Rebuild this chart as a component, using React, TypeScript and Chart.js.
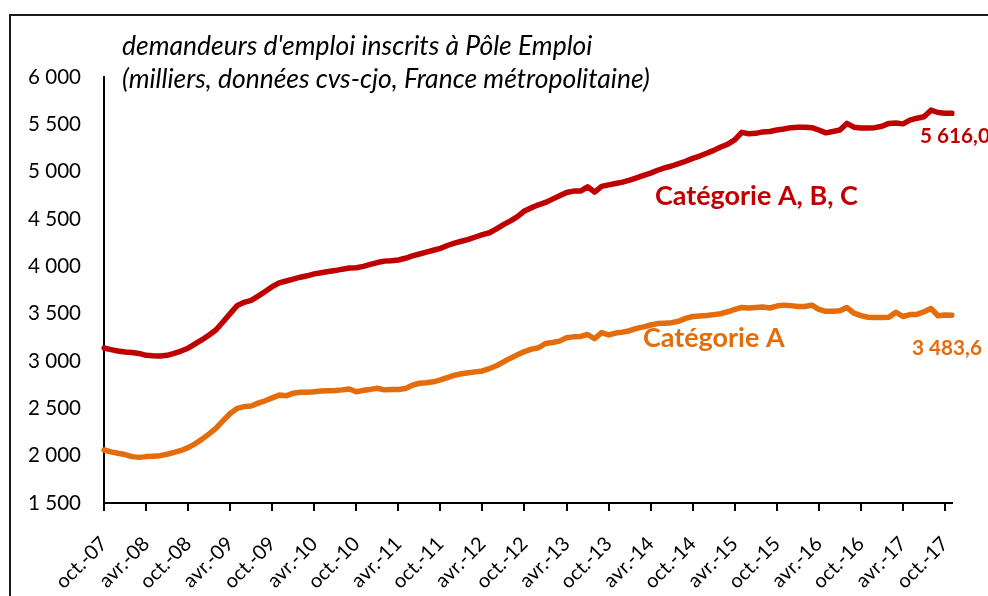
import React, { useEffect, useRef } from 'react';
import { Chart, registerables } from 'chart.js';

Chart.register(...registerables);

// ---------- data ----------
const MONTH_ABBR = ['janv.', 'févr.', 'mars', 'avr.', 'mai', 'juin', 'juil.', 'août', 'sept.', 'oct.', 'nov.', 'déc.'];
const START_MONTH_INDEX = 9; // octobre
const START_YEAR = 2007;
const N_MONTHS = 122; // oct.-07 .. nov.-17
const LABEL_EVERY = 6;

const CATEGORIES: string[] = Array.from({ length: N_MONTHS }, (_, i) => {
  const m = (START_MONTH_INDEX + i) % 12;
  const y = START_YEAR + Math.floor((START_MONTH_INDEX + i) / 12);
  return `${MONTH_ABBR[m]}-${String(y % 100).padStart(2, '0')}`;
});

const SERIES_ABC_NAME = 'Catégorie A, B, C';
const SERIES_A_NAME = 'Catégorie A';

const SERIES_ABC: number[] = [
  3137, 3120, 3105, 3095, 3090, 3080, 3060, 3055, 3052, 3060,
  3080, 3105, 3135, 3180, 3225, 3275, 3330, 3415, 3500, 3585,
  3620, 3640, 3685, 3735, 3785, 3825, 3845, 3865, 3885, 3900,
  3920, 3932, 3945, 3955, 3970, 3982, 3985, 4000, 4020, 4040,
  4055, 4060, 4067, 4085, 4110, 4130, 4150, 4170, 4190, 4220,
  4245, 4265, 4285, 4310, 4335, 4355, 4395, 4440, 4480, 4525,
  4585, 4620, 4650, 4675, 4710, 4745, 4780, 4795, 4795, 4840,
  4785, 4845, 4860, 4875, 4890, 4910, 4935, 4960, 4985, 5015,
  5040, 5060, 5085, 5110, 5140, 5165, 5195, 5225, 5260, 5290,
  5335, 5415, 5400, 5405, 5420, 5425, 5440, 5450, 5465, 5470,
  5470, 5465, 5440, 5410, 5425, 5440, 5510, 5470, 5462, 5462,
  5465, 5480, 5510, 5515, 5505, 5545, 5565, 5580, 5650, 5625,
  5618, 5616.0,
];

const SERIES_A: number[] = [
  2060, 2040, 2025, 2012, 1990, 1982, 1990, 1995, 2000, 2015,
  2035, 2055, 2085, 2125, 2175, 2230, 2290, 2370, 2445, 2500,
  2518, 2525, 2555, 2580, 2610, 2640, 2632, 2660, 2670, 2670,
  2675, 2682, 2685, 2688, 2695, 2705, 2675, 2690, 2700, 2712,
  2695, 2700, 2700, 2710, 2745, 2765, 2770, 2780, 2800, 2825,
  2850, 2865, 2875, 2885, 2895, 2920, 2950, 2990, 3030, 3065,
  3100, 3125, 3140, 3185, 3195, 3210, 3245, 3255, 3260, 3280,
  3235, 3300, 3275, 3295, 3305, 3320, 3345, 3360, 3380, 3395,
  3400, 3405, 3420, 3450, 3470, 3475, 3480, 3490, 3500, 3520,
  3545, 3565, 3560, 3565, 3570, 3560, 3580, 3590, 3585, 3575,
  3575, 3590, 3545, 3525, 3525, 3530, 3565, 3505, 3480, 3462,
  3460, 3460, 3462, 3515, 3470, 3490, 3492, 3520, 3555, 3478,
  3485, 3483.6,
];

const Y_MIN = 1500;
const Y_MAX = 6000;
const Y_STEP = 500;

const TITLE_LINES = [
  "demandeurs d'emploi inscrits à Pôle Emploi",
  '(milliers, données cvs-cjo, France métropolitaine)',
];

// ---------- style ----------
const FAMILY = 'Lato, "Open Sans", "DejaVu Sans", sans-serif';
const RED = '#C00000';
const ORANGE = '#E46C0A';

const fmtThousands = (v: number) => String(v).replace(/\B(?=(\d{3})+(?!\d))/g, ' ');
const fmtValue = (v: number) => {
  const [int, dec] = v.toFixed(1).split('.');
  return `${fmtThousands(Number(int))},${dec}`;
};

export default function App() {
  const ref = useRef<HTMLCanvasElement>(null);

  useEffect(() => {
    const canvas = ref.current!;
    const mctx = canvas.getContext('2d')!;
    const fit = (text: string, font: (s: number) => string, target: number) => {
      const base = 20;
      mctx.font = font(base);
      const w = mctx.measureText(text).width;
      return (base * target) / w;
    };
    const normalFont = (s: number) => `normal 400 ${s}px ${FAMILY}`;
    const boldFont = (s: number) => `normal 700 ${s}px ${FAMILY}`;
    const italicFont = (s: number) => `italic 400 ${s}px ${FAMILY}`;

    const tickSize = fit('6 000', normalFont, 53);
    const xTickSize = tickSize * 0.97;
    const titleSize = fit(TITLE_LINES[1], italicFont, 528);
    const catSize = fit(SERIES_ABC_NAME, boldFont, 203);
    const valSize = fit(fmtValue(SERIES_A[SERIES_A.length - 1]), boldFont, 70);

    const overlay = {
      id: 'overlay',
      afterDraw(chart: any) {
        const ctx = chart.ctx as CanvasRenderingContext2D;
        const xs = chart.scales.x;
        const area = chart.chartArea;
        ctx.save();
        // category tick marks below the x axis (one per labelled month)
        ctx.strokeStyle = '#000';
        ctx.lineWidth = 2;
        ctx.beginPath();
        for (let i = 0; i < CATEGORIES.length; i += LABEL_EVERY) {
          const px = Math.round(xs.getPixelForValue(i));
          ctx.moveTo(px, area.bottom);
          ctx.lineTo(px, area.bottom + 8);
        }
        ctx.stroke();
        // frame
        ctx.strokeStyle = '#1a1a1a';
        ctx.lineWidth = 2;
        ctx.strokeRect(10, 15, 1400, 1000);
        // title
        ctx.fillStyle = '#000';
        ctx.textAlign = 'left';
        ctx.textBaseline = 'alphabetic';
        ctx.font = italicFont(titleSize);
        ctx.fillText(TITLE_LINES[0], 122, 55);
        ctx.fillText(TITLE_LINES[1], 122, 88);
        // series labels
        ctx.font = boldFont(catSize);
        ctx.fillStyle = RED;
        ctx.fillText(SERIES_ABC_NAME, 655, 205);
        ctx.fillStyle = ORANGE;
        ctx.fillText(SERIES_A_NAME, 643, 347);
        // last values
        ctx.font = boldFont(valSize);
        ctx.fillStyle = RED;
        ctx.fillText(fmtValue(SERIES_ABC[SERIES_ABC.length - 1]), 920, 143);
        ctx.fillStyle = ORANGE;
        ctx.fillText(fmtValue(SERIES_A[SERIES_A.length - 1]), 912, 355);
        ctx.restore();
      },
    };

    const chart = new Chart(canvas, {
      type: 'line',
      data: {
        labels: CATEGORIES,
        datasets: [
          {
            label: SERIES_ABC_NAME,
            data: SERIES_ABC,
            borderColor: RED,
            backgroundColor: RED,
            borderWidth: 5.5,
            pointRadius: 0,
            tension: 0,
            borderJoinStyle: 'round',
            borderCapStyle: 'round',
          },
          {
            label: SERIES_A_NAME,
            data: SERIES_A,
            borderColor: ORANGE,
            backgroundColor: ORANGE,
            borderWidth: 5.5,
            pointRadius: 0,
            tension: 0,
            borderJoinStyle: 'round',
            borderCapStyle: 'round',
          },
        ],
      },
      options: {
        responsive: false,
        devicePixelRatio: 1,
        animation: false,
        events: [],
        layout: { padding: { top: 77, right: 36, left: 0, bottom: 0 } },
        plugins: {
          legend: { display: false },
          tooltip: { enabled: false },
          title: { display: false },
        },
        scales: {
          x: {
            type: 'category',
            offset: false,
            afterFit: (s: any) => {
              s.height = 93;
              s.paddingLeft = 0;
              s.paddingRight = 0;
            },
            border: { display: true, color: '#000', width: 2 },
            grid: { display: false, drawOnChartArea: false, drawTicks: false },
            ticks: {
              autoSkip: false,
              maxRotation: 45,
              minRotation: 45,
              padding: 29,
              color: '#000',
              font: { family: FAMILY, size: xTickSize },
              callback: (_v: any, i: number) => (i % LABEL_EVERY === 0 ? CATEGORIES[i] : null),
            },
          },
          y: {
            min: Y_MIN,
            max: Y_MAX,
            afterFit: (s: any) => { s.width = 104; },
            border: { display: true, color: '#000', width: 2 },
            grid: { display: true, drawOnChartArea: false, drawTicks: false },
            ticks: {
              stepSize: Y_STEP,
              padding: 23,
              color: '#000',
              font: { family: FAMILY, size: tickSize },
              callback: (v: any) => fmtThousands(Number(v)),
            },
          },
        },
      },
      plugins: [overlay],
    });
    return () => chart.destroy();
  }, []);

  return (
    <div style={{ position: 'absolute', left: 0, top: 0, width: 988, height: 596, background: '#fff', overflow: 'hidden' }}>
      <canvas ref={ref} width={988} height={596} style={{ display: 'block', width: 988, height: 596 }} />
    </div>
  );
}
